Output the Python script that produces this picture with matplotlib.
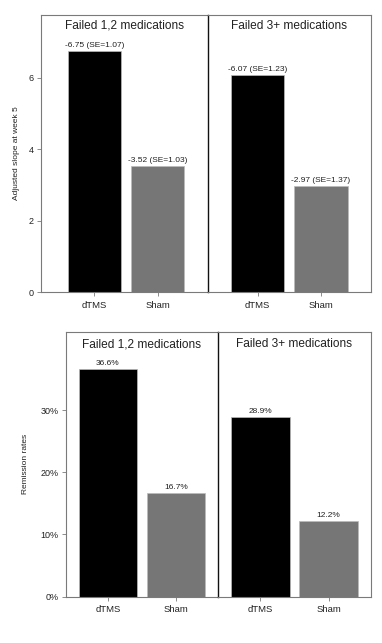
import matplotlib.pyplot as plt
from matplotlib.ticker import PercentFormatter

plt.rcParams['font.family'] = ['Liberation Sans', 'DejaVu Sans']

groups = ["Failed 1,2 medications", "Failed 3+ medications"]
arms = ["dTMS", "Sham"]
slope = [[6.75, 3.52], [6.07, 2.97]]
slope_labels = [["-6.75 (SE=1.07)", "-3.52 (SE=1.03)"],
                ["-6.07 (SE=1.23)", "-2.97 (SE=1.37)"]]
remission = [[0.366, 0.167], [0.289, 0.122]]
remission_labels = [["36.6%", "16.7%"], ["28.9%", "12.2%"]]

bar_colors = ['#000000', '#767676']
frame_col = '#7a7a7a'
text_col = '#222222'

W, H = 382, 643
fig = plt.figure(figsize=(W / 100, H / 100), dpi=100)


def px_axes(x0, x1, y0, y1):
    # pixel box (from top-left) -> figure fraction
    return fig.add_axes([x0 / W, 1 - y1 / H, (x1 - x0) / W, (y1 - y0) / H])


def panel(ax, vals, labels, title, xlim, width, ylim, title_y, first):
    xs = [1, 2]
    ax.bar(xs, vals, width=width, color=bar_colors, edgecolor='#bbbbbb', linewidth=0.5)
    for x, v, lab in zip(xs, vals, labels):
        ax.annotate(lab, (x, v), xytext=(0, 1.5), textcoords='offset points',
                    ha='center', va='bottom', fontsize=6, color=text_col)
    ax.set_xlim(*xlim)
    ax.set_ylim(*ylim)
    ax.set_xticks(xs)
    ax.set_xticklabels(arms, fontsize=6.8, color=text_col)
    ax.text(0.5, title_y, title, transform=ax.transAxes, ha='center', va='center',
            fontsize=8.6, color=text_col)
    for s in ax.spines.values():
        s.set_color(frame_col)
        s.set_linewidth(0.8)
    ax.tick_params(axis='x', length=3, width=0.6, color=frame_col, pad=3)
    if first:
        ax.spines['right'].set_visible(False)
        ax.tick_params(axis='y', length=3, width=0.6, color=frame_col, labelsize=6.5,
                       labelcolor=text_col, pad=2)
    else:
        # divider between the two panels
        ax.spines['left'].set_color('#111111')
        ax.spines['left'].set_linewidth(1.0)
        ax.tick_params(axis='y', left=False, labelleft=False)


# top row: adjusted slope
ax1 = px_axes(40.7, 207.5, 15, 292.2)
ax2 = px_axes(207.5, 370.8, 15, 292.2)
panel(ax1, slope[0], slope_labels[0], groups[0], (0.15, 2.79), 0.85, (0, 7.75), 0.961, True)
panel(ax2, slope[1], slope_labels[1], groups[1], (0.21, 2.79), 0.85, (0, 7.75), 0.961, False)
ax1.set_yticks([0, 2, 4, 6])
ax1.set_ylabel("Adjusted slope at week 5", fontsize=6, color=text_col, labelpad=6.5)

# bottom row: remission rates
ax3 = px_axes(65.7, 218.3, 331.7, 596.5)
ax4 = px_axes(218.3, 370.7, 331.7, 596.5)
panel(ax3, remission[0], remission_labels[0], groups[0], (0.38, 2.62), 0.86, (0, 0.426), 0.952, True)
panel(ax4, remission[1], remission_labels[1], groups[1], (0.38, 2.62), 0.86, (0, 0.426), 0.952, False)
ax3.set_yticks([0, 0.1, 0.2, 0.3])
ax3.yaxis.set_major_formatter(PercentFormatter(1.0, decimals=0))
ax3.set_ylabel("Remission rates", fontsize=6, color=text_col, labelpad=8.5)

fig.savefig('out.png', dpi=100)
